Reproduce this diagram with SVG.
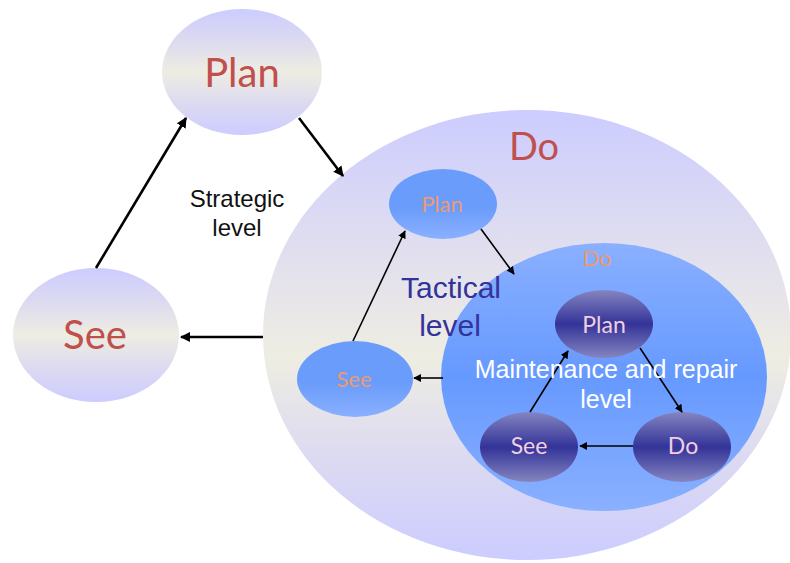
<svg xmlns="http://www.w3.org/2000/svg" width="790" height="563" viewBox="0 0 790 563">
<defs>
<linearGradient id="gLav" x1="0" y1="0" x2="0" y2="1">
<stop offset="0" stop-color="#ccccff"/>
<stop offset="0.25" stop-color="#dcdaf0"/>
<stop offset="0.5" stop-color="#eeede2"/>
<stop offset="0.75" stop-color="#dcdaf0"/>
<stop offset="1" stop-color="#ccccff"/>
</linearGradient>
<linearGradient id="gBig" x1="0" y1="0" x2="0" y2="1">
<stop offset="0" stop-color="#ccccff"/>
<stop offset="0.4" stop-color="#e6e4ea"/>
<stop offset="0.55" stop-color="#eeede2"/>
<stop offset="0.75" stop-color="#dedcf0"/>
<stop offset="1" stop-color="#ccccff"/>
</linearGradient>
<linearGradient id="gMid" x1="0" y1="0" x2="0" y2="1">
<stop offset="0" stop-color="#8ab0ff"/>
<stop offset="0.5" stop-color="#6699ff"/>
<stop offset="1" stop-color="#8ab0ff"/>
</linearGradient>
<linearGradient id="gTac" x1="0" y1="0" x2="0" y2="1">
<stop offset="0" stop-color="#6a9cfb"/>
<stop offset="0.55" stop-color="#6a9cfb"/>
<stop offset="1" stop-color="#8ab0ff"/>
</linearGradient>
<linearGradient id="gDark" x1="0" y1="0" x2="0" y2="1">
<stop offset="0" stop-color="#8585c0"/>
<stop offset="0.5" stop-color="#333399"/>
<stop offset="1" stop-color="#8585c0"/>
</linearGradient>
<marker id="ah" viewBox="0 0 10 10" refX="9" refY="5" markerWidth="4" markerHeight="4" orient="auto" markerUnits="strokeWidth">
<path d="M0,0 L10,5 L0,10 z" fill="#000"/>
</marker>
<marker id="ahs" viewBox="0 0 10 10" refX="9" refY="5" markerWidth="5" markerHeight="5" orient="auto" markerUnits="strokeWidth">
<path d="M0,0 L10,5 L0,10 z" fill="#000"/>
</marker>
</defs>
<style>
.big{font-family:Lato,"Open Sans","Noto Sans",sans-serif;fill:#c0504d;text-anchor:middle}
.lbl{font-family:"Liberation Sans",Arial,sans-serif;text-anchor:middle}
.tac{font-family:Lato,"Open Sans","Noto Sans",sans-serif;fill:#ec9a70;font-size:22px;text-anchor:middle}
.inn{font-family:Lato,"Open Sans","Noto Sans",sans-serif;fill:#f2cfe0;font-size:23px;text-anchor:middle}
.c1{stroke:#000;stroke-width:2.6;fill:none;marker-end:url(#ah)}
.c2{stroke:#000;stroke-width:1.6;fill:none;marker-end:url(#ahs)}
</style>
<rect width="790" height="563" fill="#fff"/>

<g id="strategic-plan">
<ellipse cx="242" cy="72" rx="80" ry="63" fill="url(#gLav)"/>
<text class="big" x="242" y="87" font-size="40">Plan</text>
</g>
<g id="strategic-see">
<ellipse cx="96" cy="335" rx="83" ry="67" fill="url(#gLav)"/>
<text class="big" x="95" y="349" font-size="40">See</text>
</g>
<g id="strategic-do">
<ellipse cx="527" cy="335" rx="264" ry="225" fill="url(#gBig)"/>
<text class="big" x="534" y="160" font-size="38">Do</text>
</g>
<g id="strategic-label">
<text class="lbl" x="237" y="207" font-size="24" fill="#111">Strategic</text>
<text class="lbl" x="237" y="236" font-size="24" fill="#111">level</text>
</g>

<g id="tactical-plan">
<ellipse cx="443" cy="204" rx="54" ry="35" fill="url(#gTac)"/>
<text class="tac" x="442" y="212">Plan</text>
</g>
<g id="tactical-see">
<ellipse cx="355" cy="379" rx="58" ry="38" fill="url(#gTac)"/>
<text class="tac" x="354" y="387">See</text>
</g>
<g id="tactical-do">
<ellipse cx="604" cy="377" rx="163" ry="134" fill="url(#gMid)"/>
<text class="tac" x="597" y="266">Do</text>
</g>
<g id="tactical-label">
<text class="lbl" x="451" y="298" font-size="30" fill="#333399">Tactical</text>
<text class="lbl" x="450" y="336" font-size="30" fill="#333399">level</text>
</g>

<g id="mr-plan">
<ellipse cx="604" cy="324" rx="49" ry="34" fill="url(#gDark)"/>
<text class="inn" x="604" y="333">Plan</text>
</g>
<g id="mr-see">
<ellipse cx="529" cy="447" rx="49" ry="35" fill="url(#gDark)"/>
<text class="inn" x="529" y="454">See</text>
</g>
<g id="mr-do">
<ellipse cx="682" cy="447" rx="49" ry="35" fill="url(#gDark)"/>
<text class="inn" x="683" y="454">Do</text>
</g>

<g id="connectors">
<line class="c1" x1="96" y1="268" x2="186" y2="118"/>
<line class="c1" x1="299" y1="118" x2="343" y2="176"/>
<line class="c1" x1="263" y1="337" x2="181" y2="337"/>
<line class="c2" x1="353" y1="341" x2="405" y2="231"/>
<line class="c2" x1="481" y1="229" x2="514" y2="274"/>
<line class="c2" x1="443" y1="378" x2="414" y2="378"/>
<line class="c2" x1="530" y1="412" x2="568" y2="351"/>
<line class="c2" x1="640" y1="348" x2="682" y2="412"/>
<line class="c2" x1="633" y1="446" x2="580" y2="446"/>
</g>

<g id="mr-label">
<text class="lbl" x="606" y="378" font-size="25" fill="#ffffff">Maintenance and repair</text>
<text class="lbl" x="606" y="408" font-size="25" fill="#ffffff">level</text>
</g>
</svg>
